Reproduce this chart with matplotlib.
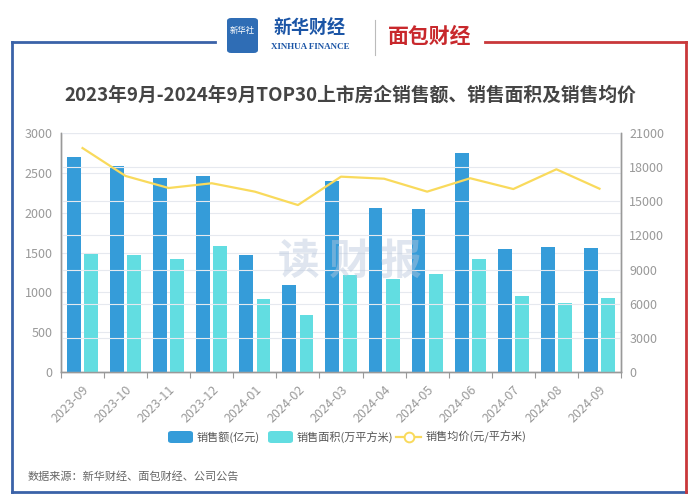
import numpy as np
import matplotlib.pyplot as plt
from matplotlib.patches import FancyBboxPatch
from matplotlib.lines import Line2D

plt.rcParams['font.family'] = ['Noto Sans CJK SC', 'DejaVu Sans']

months = ['2023-09', '2023-10', '2023-11', '2023-12', '2024-01', '2024-02', '2024-03',
          '2024-04', '2024-05', '2024-06', '2024-07', '2024-08', '2024-09']
sales_amount = [2705, 2592, 2437, 2466, 1466, 1090, 2394, 2062, 2045, 2752, 1540, 1572, 1555]
sales_area = [1481, 1472, 1422, 1578, 918, 713, 1215, 1170, 1229, 1422, 956, 864, 931]
avg_price = [19700, 17240, 16180, 16600, 15860, 14680, 17180, 17000, 15860, 17040, 16090, 17830, 16120]

c_amount = '#359cd9'
c_area = '#62dde1'
c_price = '#f9da5c'
grey = '#999999'

fig = plt.figure(figsize=(6.97, 5.0), dpi=100)
fig.patch.set_facecolor('white')

# frame around the chart
blue_edge = '#3a62a8'
red_edge = '#c9383a'
fig.add_artist(Line2D([12/697, 12/697], [1-42/500, 1-492/500], color=blue_edge, lw=2))
fig.add_artist(Line2D([12/697, 215/697], [1-42/500, 1-42/500], color=blue_edge, lw=2))
fig.add_artist(Line2D([12/697, 686/697], [1-492/500, 1-492/500], color=blue_edge, lw=2))
fig.add_artist(Line2D([686/697, 686/697], [1-42/500, 1-492/500], color=red_edge, lw=2))
fig.add_artist(Line2D([485/697, 686/697], [1-42/500, 1-42/500], color=red_edge, lw=2))

# logos
fig.add_artist(FancyBboxPatch((227/697, 1-53/500), 31/697, 35/500,
                              boxstyle='round,pad=0,rounding_size=0.006',
                              fc='#2f6db5', ec='none'))
fig.text(242.5/697, 1-30/500, '新华社', fontsize=6, color='white', ha='center', va='center')
fig.text(310/697, 1-28/500, '新华财经', fontsize=13, color='#1b55a6', ha='center',
         va='center', style='italic', fontweight='bold')
fig.text(310/697, 1-47/500, 'XINHUA FINANCE', fontsize=6.5, color='#1b55a6', ha='center',
         va='center', family='Liberation Serif', fontweight='bold')
fig.add_artist(Line2D([375/697, 375/697], [1-20/500, 1-55/500], color='#bbbbbb', lw=0.8))
fig.text(430/697, 1-36/500, '面包财经', fontsize=15, color='#c8282c', ha='center',
         va='center', fontweight='bold')

fig.text(350/697, 1-95/500, '2023年9月-2024年9月TOP30上市房企销售额、销售面积及销售均价',
         fontsize=13.5, fontweight='bold', color='#444444', ha='center', va='center')

ax = fig.add_axes([61/697, 1-371.7/500, 560/697, 238.4/500])
ax2 = ax.twinx()

x = np.arange(len(months))
w = 0.32
ax.bar(x - 0.2, sales_amount, width=w, color=c_amount, zorder=3)
ax.bar(x + 0.2, sales_area, width=w, color=c_area, zorder=3)
ax2.plot(x, avg_price, color=c_price, lw=1.6, zorder=4)

ax.set_xlim(-0.5, len(months) - 0.5)
ax.set_ylim(0, 3000)
ax.set_yticks(np.arange(0, 3001, 500))
ax2.set_ylim(0, 21000)
ax2.set_yticks(np.arange(0, 21001, 3000))

ax.grid(axis='y', color='#e6e9ef', lw=0.8, zorder=0)
ax2.grid(axis='y', color='#e6e9ef', lw=0.8, zorder=0)
ax.set_axisbelow(True)

for a in (ax, ax2):
    a.spines['top'].set_visible(False)
    for s in ('left', 'right', 'bottom'):
        a.spines[s].set_color('#999999')
        a.spines[s].set_linewidth(1)
    a.tick_params(axis='y', length=0, labelsize=9, labelcolor=grey, pad=6)

ax.set_xticks(np.arange(-0.5, len(months), 1.0), minor=False)
ax.set_xticklabels([])
ax.set_xticks(x, minor=True)
ax.set_xticklabels(months, minor=True, rotation=45, ha='right', rotation_mode='anchor')
ax.tick_params(axis='x', which='major', length=4, color='#999999')
ax.tick_params(axis='x', which='minor', length=0, labelsize=9, labelcolor=grey, pad=8)

# watermark
fig.text(350/697, 1-262/500, '读 财 报', fontsize=30, fontweight='bold', color='#b8c7dc',
         alpha=0.45, ha='center', va='center')

# legend
ly = 1 - 437/500
fig.add_artist(FancyBboxPatch((168/697, ly - 6/500), 25/697, 12/500,
                              boxstyle='round,pad=0,rounding_size=0.005', fc=c_amount, ec='none'))
fig.text(197/697, ly, '销售额(亿元)', fontsize=8, color='#555555', va='center')
fig.add_artist(FancyBboxPatch((268/697, ly - 6/500), 25/697, 12/500,
                              boxstyle='round,pad=0,rounding_size=0.005', fc=c_area, ec='none'))
fig.text(297/697, ly, '销售面积(万平方米)', fontsize=8, color='#555555', va='center')
fig.add_artist(Line2D([396/697, 421/697], [ly, ly], color=c_price, lw=1.6))
fig.add_artist(Line2D([408.5/697], [ly], marker='o', ms=7, mfc='white', mec=c_price, mew=1.4))
fig.text(426/697, ly, '销售均价(元/平方米)', fontsize=8, color='#555555', va='center')

fig.text(28/697, 1-477/500, '数据来源：新华财经、面包财经、公司公告', fontsize=8,
         color='#666666', va='center')

fig.savefig('out.png', dpi=100)
